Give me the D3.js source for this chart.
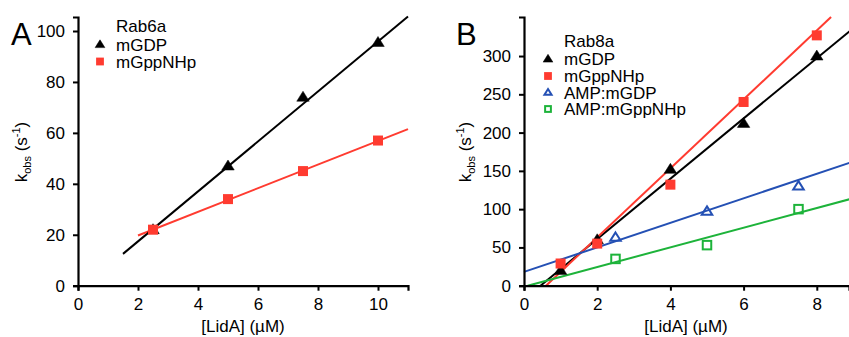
<!DOCTYPE html>
<html>
<head>
<meta charset="utf-8">
<script src="https://cdn.jsdelivr.net/npm/d3@7"></script>
<style>
  body { margin: 0; background: #fff; }
  svg { display: block; font-family: "Liberation Sans", Arial, sans-serif; }
</style>
</head>
<body>
<svg id="chart" width="849" height="337"></svg>
<script>
// Panel A: Rab6a
const rab6aX = [2.5, 5, 7.5, 10];
const rab6aGDP = [22, 47, 74, 95.5];
const rab6aGppNHp = [22, 34, 45, 57];
// fitted lines [x0, y0, x1, y1]
const rab6aGDPFit = [1.5, 12.5, 11, 105.7];
const rab6aGppNHpFit = [2, 19.7, 11, 61.5];

// Panel B: Rab8a
const rab8aX = [1, 2, 4, 6, 8];
const rab8aGDP = [20, 60, 152, 212, 300];
const rab8aGppNHp = [29, 55, 132, 240, 327];
const ampX = [2.5, 5, 7.5];
const ampGDP = [63, 97, 130];
const ampGppNHp = [35, 53, 100];
const rab8aGDPFit = [0.45, 0, 8.9, 332.6];
const rab8aGppNHpFit = [0.6, 0, 8.39, 351];
const ampGDPFit = [0, 18, 8.9, 160.6];
const ampGppNHpFit = [0.1, 0, 8.9, 113];

const ticksAX = [0, 2, 4, 6, 8, 10];
const ticksAY = [0, 20, 40, 60, 80, 100];
const ticksBX = [0, 2, 4, 6, 8];
const ticksBY = [0, 50, 100, 150, 200, 250, 300];

const BLACK = '#000000', RED = '#ff3b30', BLUE = '#2450b4', GREEN = '#1db33a';
const FS = '17px';

const svg = d3.select('#chart');

function panel(opts) {
	const g = svg.append('g');
	const x = d3.scaleLinear().domain(opts.xDomain).range(opts.xRange);
	const y = d3.scaleLinear().domain(opts.yDomain).range(opts.yRange);

	// fitted lines first, markers on top
	opts.fits.forEach(f => {
		g.append('line')
			.attr('x1', x(f.c[0])).attr('y1', y(f.c[1]))
			.attr('x2', x(f.c[2])).attr('y2', y(f.c[3]))
			.attr('stroke', f.color).attr('stroke-width', 2);
	});

	opts.series.forEach(s => {
		s.ys.forEach((v, i) => drawMarker(g, s.shape, x(s.xs[i]), y(v), s.color, s.open));
	});

	const xAxis = g.append('g')
		.attr('transform', `translate(0,${opts.yRange[0]})`)
		.call(d3.axisBottom(x).tickValues(opts.xTicks).tickSizeOuter(0).tickSize(5).tickPadding(7));
	const yAxis = g.append('g')
		.attr('transform', `translate(${opts.xRange[0]},0)`)
		.call(d3.axisLeft(y).tickValues(opts.yTicks).tickSizeOuter(0).tickSize(5).tickPadding(8));
	[xAxis, yAxis].forEach(a => {
		a.select('.domain').attr('stroke', '#000').attr('stroke-width', 2.2);
		a.selectAll('.tick line').attr('stroke', '#000').attr('stroke-width', 2);
		a.selectAll('.tick text').attr('fill', '#000')
			.style('font-size', FS).style('font-family', '"Liberation Sans", Arial, sans-serif');
	});

	// panel letter
	g.append('text').attr('x', opts.letterX).attr('y', 45)
		.style('font-size', '31px').text(opts.letter);

	// y label: k_obs (s^-1)
	const yl = g.append('text')
		.attr('transform', `translate(${opts.yLabelX},152) rotate(-90)`)
		.attr('text-anchor', 'middle')
		.style('font-size', FS);
	yl.append('tspan').text('k');
	yl.append('tspan').attr('dy', 4).style('font-size', '11px').text('obs');
	yl.append('tspan').attr('dy', -4).text(' (s');
	yl.append('tspan').attr('dy', -7).style('font-size', '11px').text('-1');
	yl.append('tspan').attr('dy', 7).text(')');

	// x label
	g.append('text')
		.attr('x', opts.xLabelX).attr('y', 332)
		.attr('text-anchor', 'middle')
		.style('font-size', FS)
		.text('[LidA] (\u00b5M)');

	// legend
	g.append('text').attr('x', opts.legX + 16).attr('y', opts.legY[0])
		.style('font-size', FS).text(opts.legTitle);
	opts.series.forEach((s, i) => {
		const ly = opts.legY[i + 1];
		drawMarker(g, s.shape, opts.legX, ly - 6, s.color, s.open, s.open ? 0.68 : 0.78);
		g.append('text').attr('x', opts.legX + 16).attr('y', ly)
			.style('font-size', FS).text(s.name);
	});
}

function drawMarker(g, shape, cx, cy, color, open, k = 1) {
	if (shape === 'triangle') {
		const s = (open ? 10.5 : 12.5) * k;
		const h = s * 0.8;
		g.append('path')
			.attr('d', `M${cx},${cy - h * 0.6}L${cx + s / 2},${cy + h * 0.4}L${cx - s / 2},${cy + h * 0.4}Z`)
			.attr('fill', open ? 'none' : color)
			.attr('stroke', color).attr('stroke-width', open ? 2 : 0.5)
			.attr('stroke-linejoin', 'miter');
	} else {
		const s = (open ? 8.5 : 10) * k;
		g.append('rect')
			.attr('x', cx - s / 2).attr('y', cy - s / 2)
			.attr('width', s).attr('height', s)
			.attr('fill', open ? 'none' : color)
			.attr('stroke', open ? color : 'none').attr('stroke-width', 2);
	}
}

panel({
	letter: 'A', letterX: 11,
	xDomain: [0, 11], xRange: [78, 408],
	yDomain: [0, 105.5], yRange: [285.7, 17],
	xTicks: ticksAX, yTicks: ticksAY,
	yLabelX: 27, xLabelX: 243,
	legTitle: 'Rab6a', legX: 100, legY: [32, 50.5, 67.5],
	fits: [
		{ c: rab6aGDPFit, color: BLACK },
		{ c: rab6aGppNHpFit, color: RED }
	],
	series: [
		{ name: 'mGDP', shape: 'triangle', color: BLACK, xs: rab6aX, ys: rab6aGDP },
		{ name: 'mGppNHp', shape: 'square', color: RED, xs: rab6aX, ys: rab6aGppNHp }
	]
});

panel({
	letter: 'B', letterX: 456,
	xDomain: [0, 8.88], xRange: [524, 849],
	yDomain: [0, 351], yRange: [285.7, 17],
	xTicks: ticksBX, yTicks: ticksBY,
	yLabelX: 471, xLabelX: 686,
	legTitle: 'Rab8a', legX: 548, legY: [47, 65, 82, 98.5, 115],
	fits: [
		{ c: rab8aGDPFit, color: BLACK },
		{ c: rab8aGppNHpFit, color: RED },
		{ c: ampGDPFit, color: BLUE },
		{ c: ampGppNHpFit, color: GREEN }
	],
	series: [
		{ name: 'mGDP', shape: 'triangle', color: BLACK, xs: rab8aX, ys: rab8aGDP },
		{ name: 'mGppNHp', shape: 'square', color: RED, xs: rab8aX, ys: rab8aGppNHp },
		{ name: 'AMP:mGDP', shape: 'triangle', color: BLUE, open: true, xs: ampX, ys: ampGDP },
		{ name: 'AMP:mGppNHp', shape: 'square', color: GREEN, open: true, xs: ampX, ys: ampGppNHp }
	]
});
</script>
</body>
</html>
